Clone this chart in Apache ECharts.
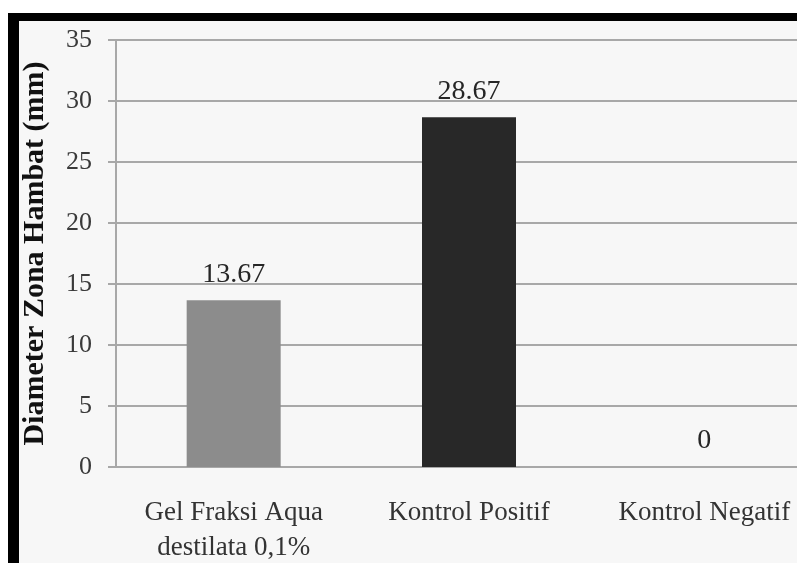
<!DOCTYPE html>
<html>
<head>
<meta charset="utf-8">
<script src="https://cdn.jsdelivr.net/npm/echarts@6/dist/echarts.min.js"></script>
<style>
html,body{margin:0;padding:0;background:#fff;}
#chart{width:797px;height:563px;}
</style>
</head>
<body>
<div id="chart"></div>
<script>
const categories = ["Gel Fraksi Aqua\ndestilata 0,1%", "Kontrol Positif", "Kontrol Negatif"];
const values = [13.67, 28.67, 0];
const valueLabels = ["13.67", "28.67", "0"];
const barColors = ["#8c8c8c", "#282828", "#8c8c8c"];
const yAxisTitle = "Diameter Zona Hambat (mm)";

const chart = echarts.init(document.getElementById('chart'), null, {renderer: 'canvas'});
const serif = "'Liberation Serif', 'DejaVu Serif', serif";

chart.setOption({
  backgroundColor: '#ffffff',
  animation: false,
  graphic: [
    {type: 'rect', z: -10, silent: true, shape: {x: 19, y: 21, width: 800, height: 560}, style: {fill: '#f7f7f7'}},
    {type: 'rect', z: -9, silent: true, shape: {x: 8, y: 13, width: 800, height: 8}, style: {fill: '#000'}},
    {type: 'rect', z: -9, silent: true, shape: {x: 8, y: 13, width: 11, height: 560}, style: {fill: '#000'}}
  ],
  grid: {left: 116, width: 706, top: 40, bottom: 96, containLabel: false, outerBoundsMode: 'none'},
  xAxis: {
    type: 'category',
    data: categories,
    axisLine: {show: true, lineStyle: {color: '#a8a8a8', width: 2}},
    axisTick: {show: false},
    axisLabel: {
      fontFamily: serif, fontSize: 27, color: '#333', lineHeight: 35, margin: 28, interval: 0
    }
  },
  yAxis: {
    type: 'value',
    min: 0, max: 35, interval: 5,
    name: yAxisTitle,
    nameLocation: 'middle',
    nameGap: 66,
    nameTextStyle: {fontFamily: serif, fontSize: 30, fontWeight: 'bold', color: '#111'},
    axisLine: {show: true, lineStyle: {color: '#a8a8a8', width: 2}},
    axisTick: {show: true, inside: false, length: 8, lineStyle: {color: '#a8a8a8', width: 2}},
    axisLabel: {fontFamily: serif, fontSize: 26, color: '#3a3a3a', margin: 24},
    splitLine: {show: true, lineStyle: {color: '#a8a8a8', width: 2}}
  },
  series: [{
    type: 'bar',
    data: values.map((v, i) => ({value: v, itemStyle: {color: barColors[i]}})),
    barWidth: 94,
    label: {
      show: true, position: 'top', distance: 12,
      fontFamily: serif, fontSize: 28, color: '#262626',
      formatter: p => valueLabels[p.dataIndex]
    }
  }]
});
</script>
</body>
</html>
